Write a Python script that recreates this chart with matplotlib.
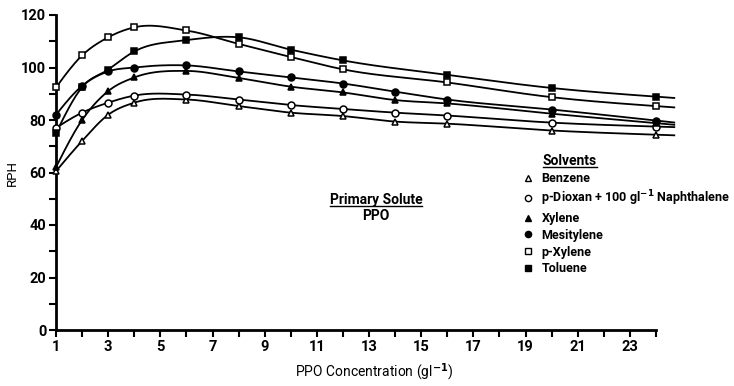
import numpy as np
import matplotlib
matplotlib.use("Agg")
import matplotlib.pyplot as plt
from matplotlib.lines import Line2D

plt.rcParams['font.family'] = ['Roboto', 'DejaVu Sans']
plt.rcParams['font.weight'] = 'bold'
plt.rcParams['mathtext.default'] = 'bf'

# PPO concentration (g/l) at which each solvent was measured
conc_all = [1, 2, 3, 4, 6, 8, 10, 12, 14, 16, 20, 24]
conc_no14 = [1, 2, 3, 4, 6, 8, 10, 12, 16, 20, 24]

# Relative pulse height for each solvent
benzene = [60.5, 72.0, 82.0, 86.6, 87.8, 85.3, 82.8, 81.5, 79.4, 78.6, 76.0, 74.4]
dioxan = [77.0, 82.8, 86.6, 89.3, 89.7, 87.8, 85.7, 84.2, 82.8, 81.7, 79.0, 77.5]
xylene = [62.0, 80.0, 91.0, 96.2, 98.7, 96.0, 92.7, 90.5, 87.6, 86.3, 82.4, 78.8]
mesitylene = [82.0, 93.0, 98.5, 100.0, 100.8, 98.5, 96.2, 93.9, 90.8, 87.8, 84.0, 79.8]
p_xylene = [92.4, 104.6, 111.5, 115.3, 114.1, 109.0, 104.0, 99.3, 94.3, 88.7, 85.3]
toluene = [75.0, 92.5, 99.2, 106.1, 110.4, 111.5, 106.8, 102.7, 97.2, 92.2, 88.9]

labels = ['Benzene', 'p-Dioxan + 100 gl$^{-1}$ Naphthalene', 'Xylene',
          'Mesitylene', 'p-Xylene', 'Toluene']
xticks_major = [1, 3, 5, 7, 9, 11, 13, 15, 17, 19, 21, 23]
yticks_major = [0, 20, 40, 60, 80, 100, 120]


def smooth_curve(x, y, xs):
    """Local cubic Hermite curve with parabolic (Bessel) tangents."""
    x = np.asarray(x, float)
    y = np.asarray(y, float)
    n = len(x)
    h = np.diff(x)
    d = np.diff(y) / h
    m = np.empty(n)
    m[1:-1] = (h[1:] * d[:-1] + h[:-1] * d[1:]) / (h[:-1] + h[1:])
    m[0] = d[0] + (d[0] - m[1]) * 0.5
    m[-1] = d[-1] + (d[-1] - m[-2]) * 0.5
    out = np.empty_like(xs)
    for k, xv in enumerate(xs):
        if xv >= x[-1]:
            out[k] = y[-1] + m[-1] * (xv - x[-1])
            continue
        i = min(max(np.searchsorted(x, xv) - 1, 0), n - 2)
        t = (xv - x[i]) / h[i]
        h00 = 2 * t ** 3 - 3 * t ** 2 + 1
        h10 = t ** 3 - 2 * t ** 2 + t
        h01 = -2 * t ** 3 + 3 * t ** 2
        h11 = t ** 3 - t ** 2
        out[k] = (h00 * y[i] + h10 * h[i] * m[i] + h01 * y[i + 1]
                  + h11 * h[i] * m[i + 1])
    return out


series = [
    (conc_all, benzene, dict(marker='^', mfc='white')),
    (conc_all, dioxan, dict(marker='o', mfc='white')),
    (conc_all, xylene, dict(marker='^', mfc='black')),
    (conc_all, mesitylene, dict(marker='o', mfc='black')),
    (conc_no14, p_xylene, dict(marker='s', mfc='white')),
    (conc_no14, toluene, dict(marker='s', mfc='black')),
]

fig = plt.figure(figsize=(7.34, 3.86), dpi=100)
ax = fig.add_axes([56 / 734, 1 - 330 / 386, 600 / 734, 315 / 386])

handles = []
for xs, ys, st in series:
    xf = np.linspace(xs[0], 24.7, 500)
    ax.plot(xf, smooth_curve(xs, ys, xf), color='black', lw=1.3,
            clip_on=False, zorder=2)
    ax.plot(xs, ys, linestyle='none', color='black', mec='black',
            mew=1.1, ms=5, clip_on=False, zorder=3, **st)
    handles.append(Line2D([], [], linestyle='none', color='black',
                          mec='black', mew=1.0, ms=4.5, **st))

ax.set_xlim(1, 24)
ax.set_ylim(0, 120)
for s in ['top', 'right']:
    ax.spines[s].set_visible(False)
for s in ['left', 'bottom']:
    ax.spines[s].set_linewidth(2)

ax.set_xticks(xticks_major)
ax.set_xticks(range(2, 25, 2), minor=True)
ax.set_yticks(yticks_major)
ax.set_yticks(range(10, 120, 20), minor=True)
ax.tick_params(which='both', direction='out', width=1.5, length=5,
               labelsize=10.5, color='black', pad=2)

ax.set_xlabel('PPO Concentration (gl$^{-1}$)', fontsize=10)
ax.xaxis.set_label_coords(0.53, -0.1)
ax.set_ylabel('RPH', fontsize=9.5)
ax.yaxis.set_label_coords(-0.062, 0.5)

ax.legend(handles, labels, loc='upper left',
          bbox_to_anchor=(522 / 734, 1 - 172 / 386),
          bbox_transform=fig.transFigure, frameon=False, fontsize=9,
          handlelength=1.0, handletextpad=0.55, labelspacing=0.3,
          borderaxespad=0, borderpad=0)

t1 = fig.text(570 / 734, 1 - 161 / 386, 'Solvents', ha='center',
              va='center', fontsize=10)
t2 = fig.text(376 / 734, 1 - 200 / 386, 'Primary Solute', ha='center',
              va='center', fontsize=10)
fig.text(376 / 734, 1 - 216 / 386, 'PPO', ha='center', va='center',
         fontsize=10)

fig.canvas.draw()
r = fig.canvas.get_renderer()
for t in (t1, t2):
    bb = t.get_window_extent(r)
    yline = bb.y0 + 1
    fig.add_artist(Line2D([bb.x0 / fig.bbox.width, bb.x1 / fig.bbox.width],
                          [yline / fig.bbox.height, yline / fig.bbox.height],
                          transform=fig.transFigure, color='black', lw=1.0))

fig.savefig('out.png', dpi=100)
